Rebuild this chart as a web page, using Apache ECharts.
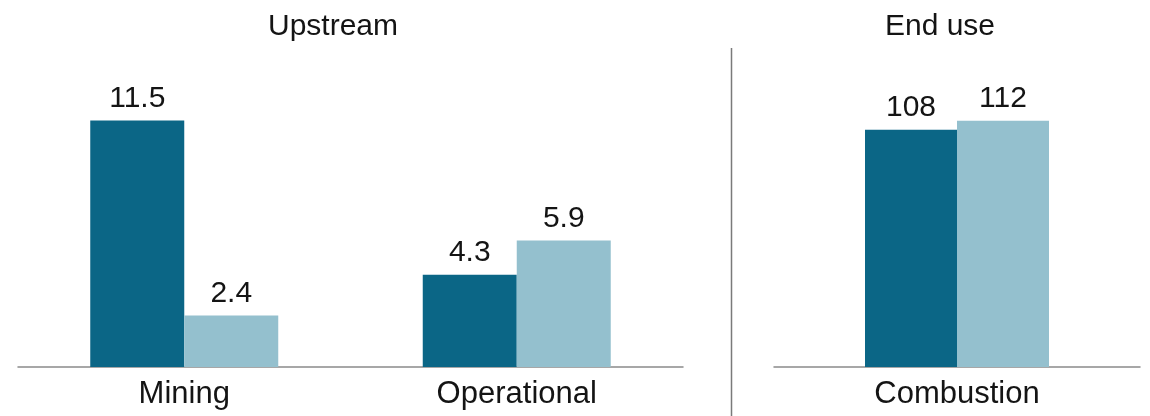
<!DOCTYPE html>
<html>
<head>
<meta charset="utf-8">
<script src="https://cdn.jsdelivr.net/npm/echarts@6/dist/echarts.min.js"></script>
<style>
  html, body { margin: 0; padding: 0; background: #ffffff; }
  #chart { width: 1150px; height: 416px; }
</style>
</head>
<body>
<div id="chart"></div>
<script>
// ---- Data ----
const panelTitles = ['Upstream', 'End use'];
const upstreamCategories = ['Mining', 'Operational'];
const upstreamSeriesA = [11.5, 4.3];
const upstreamSeriesB = [2.4, 5.9];
const endUseCategories = ['Combustion'];
const endUseSeriesA = [108];
const endUseSeriesB = [112];
const seriesNames = ['Series A', 'Series B'];

// ---- Styles ----
const FONT = '"Liberation Sans", Arial, Helvetica, sans-serif';
const DARK = '#0b6686';
const LIGHT = '#94c0ce';
const TEXT = '#141414';
const AXIS = '#8a8a8a';

const chart = echarts.init(document.getElementById('chart'), null, { renderer: 'canvas' });

function xAxisFor(gridIndex, cats) {
  return {
    type: 'category',
    gridIndex: gridIndex,
    data: cats,
    axisLine: { show: true, lineStyle: { color: AXIS, width: 1.5 } },
    axisTick: { show: false },
    axisLabel: { fontFamily: FONT, fontSize: 31, color: TEXT, margin: 12 },
    splitLine: { show: false }
  };
}
function yAxisFor(gridIndex, max) {
  return {
    type: 'value', gridIndex: gridIndex, min: 0, max: max, show: false,
    splitLine: { show: false }
  };
}
function barSeries(name, data, axisIndex, color, width) {
  return {
    type: 'bar', name: name, data: data,
    xAxisIndex: axisIndex, yAxisIndex: axisIndex,
    barWidth: width, barGap: '0%',
    itemStyle: { color: color },
    label: { show: true, position: 'top', distance: 7, fontFamily: FONT, fontSize: 30, color: TEXT },
    silent: true
  };
}

const option = {
  backgroundColor: '#ffffff',
  animation: false,
  grid: [
    { left: 18, width: 665, top: 67, height: 300 },
    { left: 774, width: 366, top: 67, height: 300 }
  ],
  xAxis: [xAxisFor(0, upstreamCategories), xAxisFor(1, endUseCategories)],
  yAxis: [yAxisFor(0, 14), yAxisFor(1, 136.5)],
  series: [
    barSeries(seriesNames[0], upstreamSeriesA, 0, DARK, 94),
    barSeries(seriesNames[1], upstreamSeriesB, 0, LIGHT, 94),
    barSeries(seriesNames[0], endUseSeriesA, 1, DARK, 92),
    barSeries(seriesNames[1], endUseSeriesB, 1, LIGHT, 92)
  ],
  graphic: [
    { type: 'text', x: 333, y: 27, style: { text: panelTitles[0], fontFamily: FONT, fontSize: 30, fill: TEXT, textAlign: 'center', textVerticalAlign: 'middle', align: 'center', verticalAlign: 'middle' } },
    { type: 'text', x: 940, y: 27, style: { text: panelTitles[1], fontFamily: FONT, fontSize: 30, fill: TEXT, textAlign: 'center', textVerticalAlign: 'middle', align: 'center', verticalAlign: 'middle' } },
    { type: 'line', shape: { x1: 731.5, y1: 48, x2: 731.5, y2: 416 }, style: { stroke: '#7a7a7a', lineWidth: 1.5 } }
  ]
};
chart.setOption(option);
</script>
</body>
</html>
